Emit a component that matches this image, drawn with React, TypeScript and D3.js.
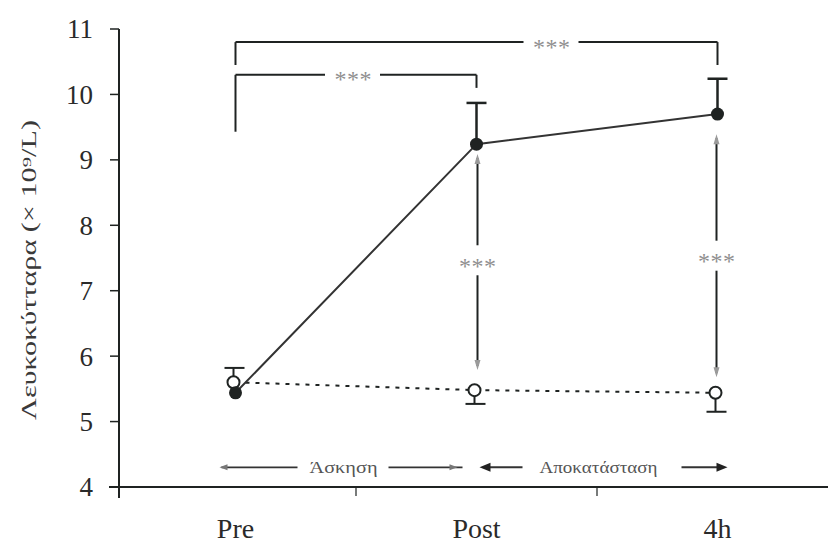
import React from 'react';
import * as d3 from 'd3';

// Sampling times
const timepoints = ['Pre', 'Post', '4h'];
// Exercise group (filled circles, solid line): mean and end of the error bar
const exerciseMean = [5.44, 9.24, 9.7];
const exerciseErrEnd = [5.44, 9.87, 10.24];
// Control group (open circles, dashed line): mean and end of the error bar
const controlMean = [5.6, 5.48, 5.44];
const controlErrEnd = [5.82, 5.27, 5.15];
// Y axis ticks
const yTicks = [4, 5, 6, 7, 8, 9, 10, 11];

// Between-time comparisons for the exercise group (brackets above the data)
const brackets = [
  { from: 0, to: 2, level: 10.8, legFrom: 10.45, legTo: 10.45, label: '***' },
  { from: 0, to: 1, level: 10.3, legFrom: 9.43, legTo: 10.1, label: '***' },
];
// Between-group comparisons at each time (vertical double arrows)
const groupDiffs = [
  { at: 1, top: 9.03, bottom: 5.85, labelAt: 7.45, label: '***' },
  { at: 2, top: 9.33, bottom: 5.74, labelAt: 7.52, label: '***' },
];
// Phase annotations along the bottom
const phaseLevel = 4.3;
const phaseExercise = 'Άσκηση';
const phaseRecovery = 'Αποκατάσταση';
const yLabel = 'Λευκοκύτταρα (× 10⁹/L)';

const W = 828;
const H = 550;
const INK = '#1f2322';
const STAR = '#8f8f8f';
const SERIF = '"Liberation Serif", "DejaVu Serif", serif';

export default function App() {
  const x = d3.scaleBand<string>().domain(timepoints).range([115, 838]).padding(0);
  const cx = (i: number) => (x(timepoints[i]) as number) + x.bandwidth() / 2;
  const y = d3.scaleLinear().domain([4, 11]).range([487, 29]);

  const solid = d3
    .line<number>()
    .x((_, i) => cx(i))
    .y((d) => y(d));

  const boundaries = timepoints.slice(1).map((t) => x(t) as number);

  const xPre = cx(0);
  const xPost = cx(1);
  const x4h = cx(2);
  const yPhase = y(phaseLevel);

  const head = (xt: number, yt: number, dir: number, len: number, half: number) =>
    `M${xt},${yt} L${xt - dir * len},${yt - half} L${xt - dir * len},${yt + half} Z`;

  const stars = (sx: number, sy: number, label: string) => (
    <text
      x={sx}
      y={sy}
      dy="0.52em"
      textAnchor="middle"
      fontSize={24}
      fill={STAR}
      textLength={37}
      lengthAdjust="spacing"
    >
      {label}
    </text>
  );

  return (
    <svg
      width={W}
      height={H}
      style={{ position: 'absolute', left: 0, top: 0, background: '#fff' }}
      fontFamily={SERIF}
    >
      <rect width={W} height={H} fill="#fff" />

      {/* Y axis */}
      <line x1={119} x2={119} y1={y(11)} y2={498} stroke={INK} strokeWidth={2} />
      {yTicks.map((t) => (
        <g key={t}>
          <line x1={110} x2={119} y1={y(t)} y2={y(t)} stroke={INK} strokeWidth={1.5} />
          <text x={93} y={y(t)} dy="0.35em" textAnchor="end" fontSize={27} fill="#2a2a2a">
            {t}
          </text>
        </g>
      ))}
      <text
        transform={`translate(36,${(y(11) + y(4)) / 2 + 12}) rotate(-90)`}
        textAnchor="middle"
        fontSize={20}
        fill="#3a3a3a"
        textLength={300}
        lengthAdjust="spacingAndGlyphs"
      >
        {yLabel}
      </text>

      {/* X axis */}
      <line x1={109} x2={W} y1={y(4)} y2={y(4)} stroke={INK} strokeWidth={2} />
      {boundaries.map((b, i) => (
        <line key={i} x1={b} x2={b} y1={y(4)} y2={y(4) + 9} stroke={INK} strokeWidth={1.2} />
      ))}
      {timepoints.map((t, i) => (
        <text key={t} x={cx(i)} y={538} textAnchor="middle" fontSize={28} fill="#2a2a2a">
          {t}
        </text>
      ))}

      {/* Brackets */}
      {brackets.map((b, i) => {
        const x1 = cx(b.from);
        const x2 = cx(b.to);
        const mid = (x1 + x2) / 2 + (b.to === 2 ? 77 : -1);
        const ly = y(b.level);
        return (
          <g key={i}>
            <line x1={x1} x2={x1} y1={ly} y2={y(b.legFrom)} stroke={INK} strokeWidth={2} />
            <line x1={x2} x2={x2} y1={ly} y2={y(b.legTo)} stroke={INK} strokeWidth={2} />
            <line x1={x1} x2={mid - 30} y1={ly} y2={ly} stroke={INK} strokeWidth={2} />
            <line x1={mid + 25} x2={x2} y1={ly} y2={ly} stroke={INK} strokeWidth={2} />
            {stars(mid - 2, ly, b.label)}
          </g>
        );
      })}

      {/* Between-group arrows */}
      {groupDiffs.map((g, i) => {
        const gx = cx(g.at) + (g.at === 1 ? 1 : -1);
        const yt = y(g.top);
        const yb = y(g.bottom);
        const yl = y(g.labelAt);
        return (
          <g key={i}>
            <line x1={gx} x2={gx} y1={yt} y2={yl - 16} stroke={INK} strokeWidth={2} />
            <line x1={gx} x2={gx} y1={yl + 14} y2={yb} stroke={INK} strokeWidth={2} />
            <path d={`M${gx},${yt - 4} L${gx - 3},${yt + 6} L${gx + 3},${yt + 6} Z`} fill="#9a9a9a" />
            <path d={`M${gx},${yb + 4} L${gx - 3},${yb - 6} L${gx + 3},${yb - 6} Z`} fill="#9a9a9a" />
            {stars(gx, yl, g.label)}
          </g>
        );
      })}

      {/* Control group: dashed line, error bars, open circles */}
      <path
        d={solid(controlMean) as string}
        fill="none"
        stroke={INK}
        strokeWidth={2}
        strokeDasharray="4,6"
      />
      {controlMean.map((m, i) => {
        const ye = y(controlErrEnd[i]);
        return (
          <g key={i}>
            <line x1={cx(i) - 2} x2={cx(i) - 2} y1={y(m)} y2={ye} stroke={INK} strokeWidth={2} />
            <line x1={cx(i) - 11} x2={cx(i) + 9} y1={ye} y2={ye} stroke={INK} strokeWidth={2} />
          </g>
        );
      })}
      {controlMean.map((m, i) => (
        <circle key={i} cx={cx(i) - 2} cy={y(m)} r={6} fill="#fff" stroke={INK} strokeWidth={2} />
      ))}

      {/* Exercise group: solid line, error bars, filled circles */}
      <path d={solid(exerciseMean) as string} fill="none" stroke="#333" strokeWidth={2} />
      {exerciseMean.map((m, i) => {
        const e = exerciseErrEnd[i];
        if (e === m) return null;
        const ye = y(e);
        return (
          <g key={i}>
            <line x1={cx(i)} x2={cx(i)} y1={y(m)} y2={ye} stroke={INK} strokeWidth={2.5} />
            <line x1={cx(i) - 10} x2={cx(i) + 10} y1={ye} y2={ye} stroke={INK} strokeWidth={2.5} />
          </g>
        );
      })}
      {exerciseMean.map((m, i) => (
        <circle key={i} cx={cx(i)} cy={y(m)} r={6.5} fill={INK} />
      ))}

      {/* Phase annotations */}
      <g stroke="#333">
        {/* Exercise phase: Pre -> Post */}
        <line x1={xPre - 14} x2={xPre + 62} y1={yPhase} y2={yPhase} strokeWidth={1.8} />
        <path d={head(xPre - 16, yPhase, -1, 8, 3)} fill="#777" stroke="none" />
        <text
          x={xPre + 108}
          y={yPhase}
          dy="0.33em"
          textAnchor="middle"
          fontSize={16}
          stroke="none"
          fill="#555"
          textLength={68}
          lengthAdjust="spacingAndGlyphs"
        >
          {phaseExercise}
        </text>
        <line x1={xPre + 153} x2={xPost - 14} y1={yPhase} y2={yPhase} strokeWidth={1.8} />
        <path d={head(xPost - 19, yPhase, 1, 8, 3)} fill="#777" stroke="none" />

        {/* Recovery phase: Post -> 4h */}
        <line x1={xPost + 10} x2={xPost + 46} y1={yPhase} y2={yPhase} strokeWidth={2} />
        <path d={head(xPost + 3, yPhase, -1, 11, 4.5)} fill="#222" stroke="none" />
        <text
          x={xPost + 122}
          y={yPhase}
          dy="0.33em"
          textAnchor="middle"
          fontSize={16}
          stroke="none"
          fill="#555"
          textLength={118}
          lengthAdjust="spacingAndGlyphs"
        >
          {phaseRecovery}
        </text>
        <line x1={x4h - 36} x2={x4h + 2} y1={yPhase} y2={yPhase} strokeWidth={2} />
        <path d={head(x4h + 10, yPhase, 1, 11, 4.5)} fill="#222" stroke="none" />
      </g>
    </svg>
  );
}
